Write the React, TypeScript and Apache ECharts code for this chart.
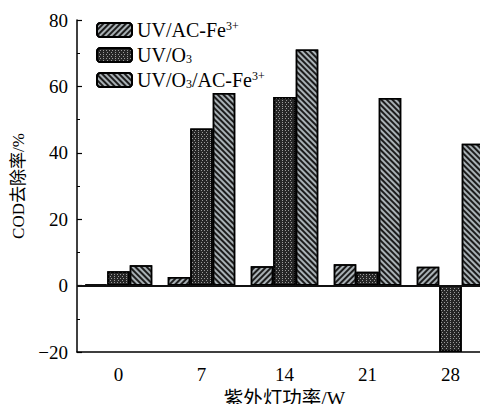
import React, { useEffect, useRef } from "react";
import * as echarts from "echarts";

const categories = ["0", "7", "14", "21", "28"];
const seriesNames = ["UV/AC-Fe3+", "UV/O3", "UV/O3/AC-Fe3+"];
const uvAcFe = [0.3, 2.6, 5.8, 6.4, 5.7];
const uvO3 = [4.3, 47.3, 56.8, 4.2, -20];
const uvO3AcFe = [6.1, 58.0, 71.1, 56.5, 42.7];
const yTicks = { min: -20, max: 80, interval: 20 };

const FONT = "'Liberation Serif', 'Noto Sans CJK SC', serif";

export default function App() {
  const ref = useRef<HTMLDivElement>(null);
  useEffect(() => {
    const chart = echarts.init(ref.current!, null, { renderer: "svg" });
    const border = { borderColor: "#000", borderWidth: 1.5 };
    const stripe = (rot: number) => ({
      symbol: "rect",
      symbolSize: 1,
      color: "#1c1c1c",
      dashArrayX: [1, 0],
      dashArrayY: [2, 2],
      rotation: rot,
    });
    const legendLabel: Record<string, string> = {
      "UV/AC-Fe3+": "{a|UV/AC-Fe}{sup|3+}",
      "UV/O3": "{a|UV/O}{sub|3}",
      "UV/O3/AC-Fe3+": "{a|UV/O}{sub|3}{a|/AC-Fe}{sup|3+}",
    };
    chart.setOption({
      animation: false,
      aria: { enabled: true, decal: { show: true } },
      grid: { left: 77, top: 20, height: 332, width: 415, outerBoundsMode: "none", containLabel: false },
      legend: {
        orient: "vertical",
        left: 91,
        top: 15,
        itemWidth: 35,
        itemHeight: 14,
        itemGap: 3,
        selectedMode: false,
        formatter: (n: string) => legendLabel[n] || n,
        textStyle: {
          fontFamily: FONT,
          color: "#000",
          rich: {
            a: { fontFamily: FONT, fontSize: 20, color: "#000", lineHeight: 20 },
            sup: { fontFamily: FONT, fontSize: 12, color: "#000", verticalAlign: "top", lineHeight: 20, padding: [0, 0, 6, 0] },
            sub: { fontFamily: FONT, fontSize: 12, color: "#000", verticalAlign: "bottom", lineHeight: 20, padding: [10, 0, 0, 0] },
          },
        },
      },
      xAxis: {
        type: "category",
        data: categories,
        position: "bottom",
        axisLine: { onZero: false, lineStyle: { color: "#000", width: 1.5 } },
        axisTick: { alignWithLabel: true, inside: true, length: 5, lineStyle: { color: "#000", width: 1.2 } },
        axisLabel: { color: "#000", fontSize: 19, fontFamily: FONT, margin: 13 },
        name: "紫外灯功率/W",
        nameLocation: "middle",
        nameGap: 37,
        nameTextStyle: { color: "#000", fontSize: 19.5, fontFamily: FONT },
      },
      yAxis: {
        type: "value",
        min: yTicks.min,
        max: yTicks.max,
        interval: yTicks.interval,
        splitLine: { show: false },
        axisLine: { show: true, lineStyle: { color: "#000", width: 1.5 } },
        axisTick: { show: true, inside: true, length: 5, lineStyle: { color: "#000", width: 1.2 } },
        minorTick: { show: true, splitNumber: 2, length: 3, lineStyle: { color: "#000", width: 1 } },
        axisLabel: {
          color: "#000",
          fontSize: 19,
          fontFamily: FONT,
          margin: 9,
          formatter: (v: number) => String(v).replace("-", "\u2212"),
        },
        name: "COD去除率/%",
        nameLocation: "middle",
        nameGap: 50,
        nameTextStyle: { color: "#000", fontSize: 17, fontFamily: FONT },
      },
      series: [
        {
          name: seriesNames[0],
          type: "bar",
          data: uvAcFe,
          barWidth: 22.5,
          barGap: "0%",
          itemStyle: { color: "#a9b1b5", ...border, decal: stripe(-Math.PI / 4) },
          markLine: {
            silent: true,
            symbol: "none",
            label: { show: false },
            lineStyle: { color: "#111", width: 2, type: "solid" },
            data: [{ yAxis: 0 }],
          },
        },
        {
          name: seriesNames[1],
          type: "bar",
          data: uvO3,
          barWidth: 22.5,
          barGap: "0%",
          itemStyle: {
            color: "#262626",
            ...border,
            decal: {
              symbol: "rect",
              symbolSize: 1,
              color: "#9a9a9a",
              dashArrayX: [[1, 2], [0, 1.5, 1, 0.5]],
              dashArrayY: [1, 1],
              rotation: 0,
            },
          },
        },
        {
          name: seriesNames[2],
          type: "bar",
          data: uvO3AcFe,
          barWidth: 22.5,
          barGap: "0%",
          itemStyle: { color: "#a9b1b5", ...border, decal: stripe(Math.PI / 4) },
        },
      ],
    });
    return () => chart.dispose();
  }, []);
  return <div ref={ref} style={{ width: 488, height: 412, margin: -8 }} />;
}
